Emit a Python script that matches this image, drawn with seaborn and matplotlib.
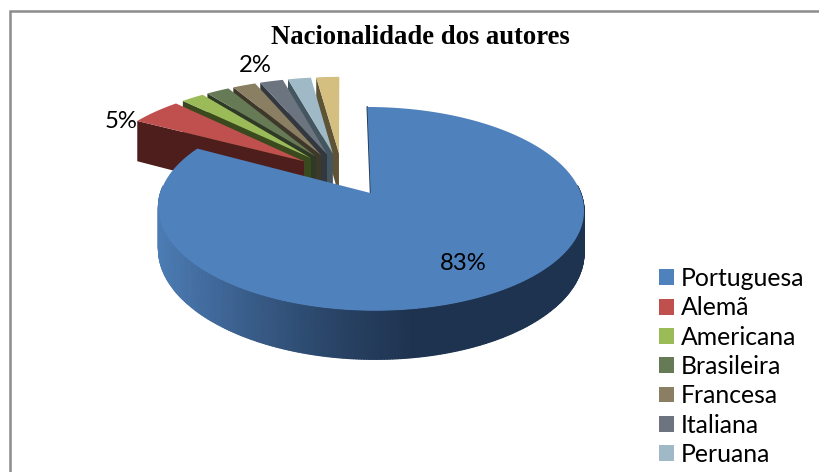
import numpy as np
import matplotlib
matplotlib.use("Agg")
import matplotlib.pyplot as plt
from matplotlib.patches import Patch, Polygon
import seaborn as sns

# dados
nacionalidades = ['Portuguesa', 'Alemã', 'Americana', 'Brasileira', 'Francesa', 'Italiana', 'Peruana', 'Outra']
percentuais = [83.0, 4.6, 2.07, 2.07, 2.07, 2.07, 2.07, 2.07]
cores_topo = ['#4F81BD', '#C0504D', '#9BBB59', '#667A55', '#8B7F63', '#6C7480', '#9FBAC6', '#D4BF80']
cores_lado = ['#2F527C', '#4E1E1C', '#3A4A1E', '#2E3A26', '#3E382A', '#33383F', '#44565F', '#5E5435']
titulo = 'Nacionalidade dos autores'
legenda_n = 7  # a oitava entrada foi cortada na imagem original

# parametros da projecao em perspectiva (pixels)
Y0 = 174
ESC_Y = 93.6
PERSP = 0.15
EXPLODE = 0.23


def projeta(x, y, x0, esc_x):
    f = 1 / (1 + PERSP * y)
    return x0 + esc_x * x * f, Y0 - ESC_Y * y * f


def extrude(y, altura):
    return altura / (1 + PERSP * y)


def fatia(ini, fim, n=120):
    # angulos no sentido horario a partir do topo
    meio = np.radians((ini + fim) / 2)
    cx, cy = EXPLODE * np.sin(meio), EXPLODE * np.cos(meio)
    ang = np.radians(np.linspace(ini, fim, n))
    return cx, cy, cx + np.sin(ang), cy + np.cos(ang)


sns.set_theme(style="white")
plt.rcParams['font.family'] = ['Lato', 'DejaVu Sans']

fig = plt.figure(figsize=(8.2, 4.72), dpi=100)
ax = fig.add_axes([0, 0, 1, 1])
ax.axis('off')

# moldura (so topo e esquerda aparecem no recorte)
ax.plot([10, 10, 820], [472, 11, 11], color='#8C8C8C', lw=1.8, solid_joinstyle='miter')

angulos = np.cumsum([0] + percentuais) * 360 / sum(percentuais)

# fatias pequenas, de tras para a frente
for i in range(len(percentuais) - 1, 0, -1):
    cx, cy, xs, ys = fatia(angulos[i], angulos[i + 1])
    px, py = projeta(cx, cy, 342, 211)
    qx, qy = projeta(xs[0], ys[0], 342, 211)
    face = [(px, py), (qx, qy), (qx, qy + extrude(ys[0], 44)), (px, py + extrude(cy, 44))]
    ax.add_patch(Polygon(face, closed=True, fc=cores_lado[i], ec='none', zorder=2))
    bx, by = projeta(xs, ys, 342, 211)
    topo = [(px, py)] + list(zip(bx, by))
    ax.add_patch(Polygon(topo, closed=True, fc=cores_topo[i], ec='none', zorder=2))

# fatia principal com gradiente na lateral
cx, cy, xs, ys = fatia(angulos[0], angulos[1], n=500)
bx, by = projeta(xs, ys, 346, 204)
h = extrude(ys, 40)
frente = ys - cy <= 0.08
mapa = sns.blend_palette(['#4C7CB4', '#3A5F8C', '#2A4568', '#1E3350', '#1E3350', '#1E3350'], as_cmap=True)
fx, fy, fh = bx[frente], by[frente], h[frente]
malha_x = np.vstack([fx, fx])
malha_y = np.vstack([fy, fy + fh])
ax.pcolormesh(malha_x, malha_y, np.vstack([fx, fx]), shading='gouraud', cmap=mapa,
              vmin=bx.min(), vmax=bx.max(), zorder=3)

px, py = projeta(cx, cy, 346, 204)
ax.plot([bx[0], px], [by[0], py], color='#1E3350', lw=1.2, zorder=3)
topo = [(px, py)] + list(zip(bx, by))
ax.add_patch(Polygon(topo, closed=True, fc=cores_topo[0], ec='none', zorder=4))

ax.set_xlim(0, 820)
ax.set_ylim(472, 0)

# textos
ax.text(420.5, 37, titulo, family='Liberation Serif', fontweight='bold', fontsize=19.2,
        ha='center', va='center', color='black', zorder=6)
ax.text(463, 263, f'{percentuais[0]:.0f}%', fontsize=17.2, ha='center', va='center', color='black', zorder=6)
ax.text(121, 121, f'{percentuais[1]:.0f}%', fontsize=17.2, ha='center', va='center', color='black', zorder=6)
ax.text(255, 65, f'{percentuais[4]:.0f}%', fontsize=17.2, ha='center', va='center', color='black', zorder=6)

# legenda
alcas = [Patch(fc=c, ec='none') for c in cores_topo[:legenda_n]]
ax.legend(alcas, nacionalidades[:legenda_n], loc='upper left', bbox_to_anchor=(659, 267),
          bbox_transform=ax.transData, frameon=False, fontsize=17.8, handlelength=0.61, handleheight=0.61,
          handletextpad=0.28, labelspacing=0.255, borderpad=0, borderaxespad=0, labelcolor='black')

fig.savefig('out.png', dpi=100, facecolor='white')
